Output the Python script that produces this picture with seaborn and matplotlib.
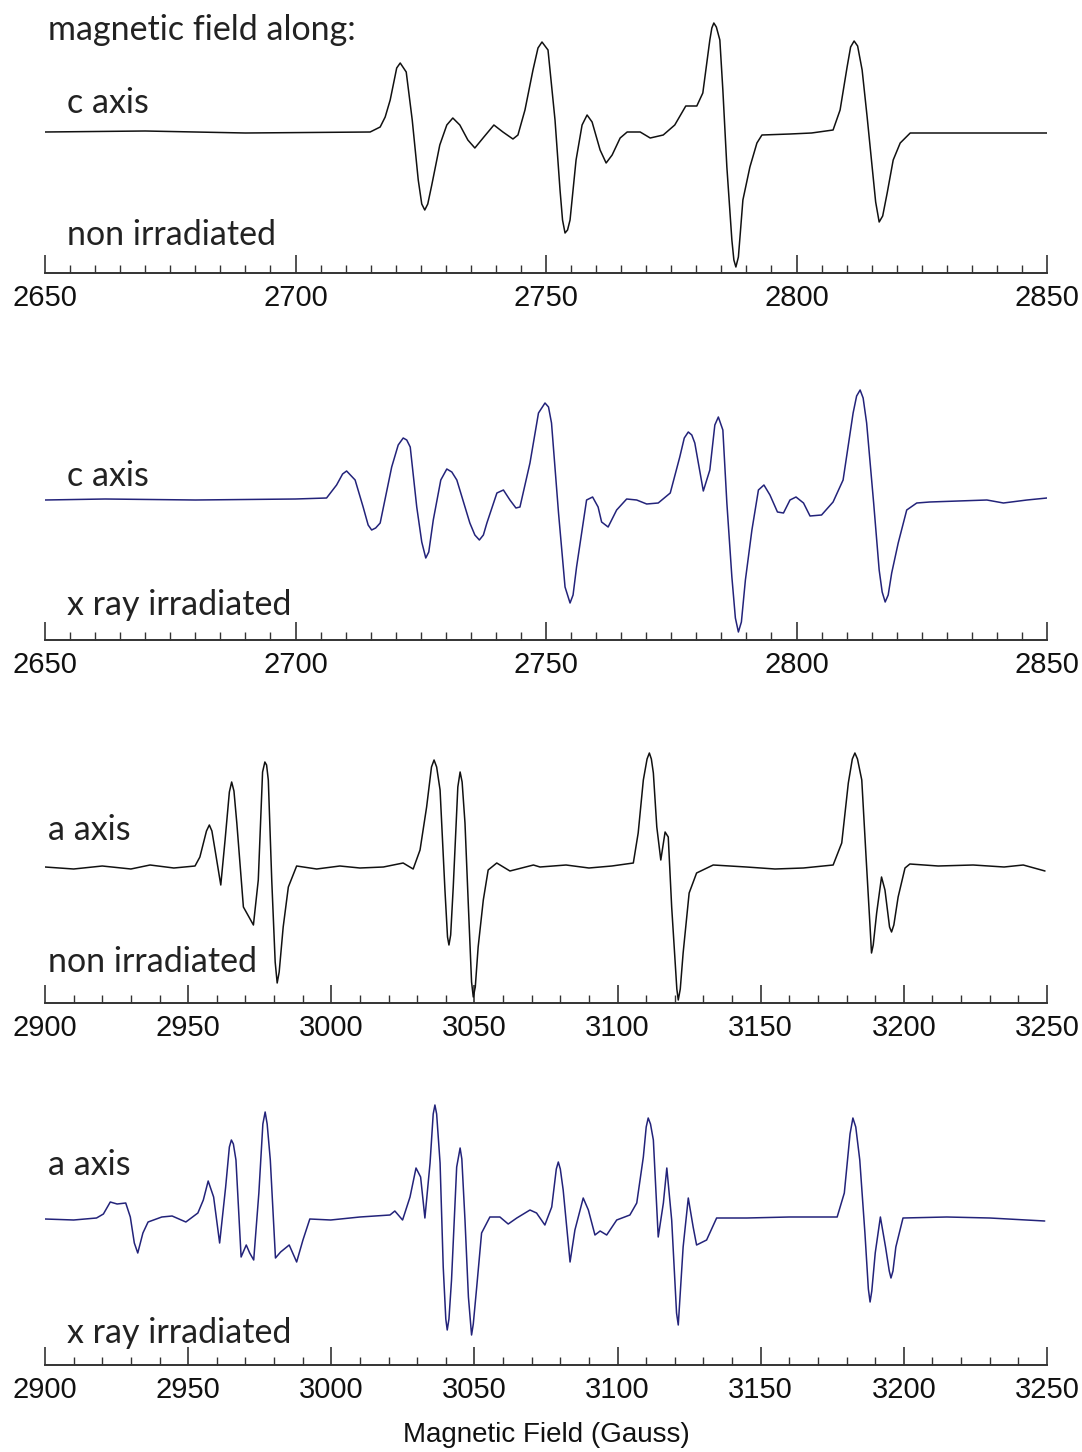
import matplotlib
matplotlib.use("Agg")
import matplotlib.pyplot as plt
from matplotlib.ticker import MultipleLocator
import seaborn as sns

sns.set_theme(style="white")
plt.rcParams['font.family'] = ['Liberation Sans', 'DejaVu Sans']

# ---------------- data (field in Gauss, signal in arbitrary units) ----------------
c_non_field = [2650.0, 2670.0, 2690.0, 2714.9, 2716.9, 2717.9, 2718.9, 2720.2, 2720.9, 2722.1,
               2723.3, 2724.5, 2725.2, 2725.8, 2726.4, 2727.2, 2728.8, 2730.2, 2731.4, 2732.8,
               2734.4, 2735.8, 2737.6, 2739.6, 2741.4, 2743.4, 2744.4, 2745.8, 2747.4, 2748.4,
               2749.2, 2750.4, 2751.8, 2752.8, 2753.3, 2753.8, 2754.3, 2754.8, 2756.0, 2757.2,
               2758.2, 2759.2, 2760.8, 2762.0, 2763.2, 2764.8, 2766.2, 2768.8, 2770.8, 2773.4,
               2775.7, 2777.9, 2780.1, 2781.3, 2782.7, 2783.1, 2783.5, 2784.0, 2784.7, 2785.3,
               2786.1, 2787.1, 2787.5, 2787.9, 2788.4, 2788.8, 2789.3, 2790.7, 2792.1, 2793.1,
               2798.7, 2803.0, 2807.3, 2808.7, 2810.1, 2810.8, 2811.5, 2812.2, 2813.1, 2814.1,
               2815.1, 2815.8, 2816.5, 2817.2, 2818.1, 2819.3, 2820.7, 2822.7, 2835.0, 2850.0]
c_non_signal = [0, 1, -1, 0, 5, 15, 32, 64, 69, 60,
                12, -48, -72, -78, -72, -53, -13, 7, 14, 7,
                -8, -16, -5, 7, 0, -7, -3, 22, 62, 84,
                90, 82, 12, -58, -88, -101, -98, -88, -28, 7,
                17, 10, -18, -31, -23, -6, 0, 0, -6, -3,
                7, 26, 26, 39, 92, 104, 109, 105, 92, 42,
                -35, -108, -128, -135, -125, -100, -68, -35, -11, -3,
                -2, -1, 2, 22, 65, 85, 91, 86, 62, 15,
                -35, -70, -90, -84, -61, -28, -11, -1, -1, -1]

c_xray_field = [2650.0, 2662.0, 2680.0, 2700.0, 2706.2, 2708.2, 2709.4, 2710.2, 2711.9, 2713.5,
                2714.5, 2715.2, 2716.0, 2716.9, 2719.2, 2720.5, 2721.5, 2722.2, 2722.9, 2724.2,
                2725.2, 2726.0, 2726.6, 2727.5, 2729.0, 2730.2, 2731.2, 2732.2, 2734.8, 2735.8,
                2736.7, 2737.5, 2738.2, 2740.2, 2741.5, 2742.8, 2744.0, 2744.8, 2746.8, 2748.5,
                2749.8, 2750.5, 2751.1, 2752.5, 2753.8, 2754.8, 2755.4, 2756.1, 2758.1, 2759.3,
                2760.4, 2761.1, 2762.4, 2764.1, 2766.1, 2768.1, 2770.1, 2772.4, 2774.8, 2776.7,
                2777.6, 2778.4, 2779.1, 2779.7, 2781.4, 2782.7, 2783.7, 2784.4, 2785.3, 2786.1,
                2787.1, 2787.8, 2788.4, 2789.0, 2789.8, 2791.1, 2792.4, 2793.5, 2794.7, 2796.2,
                2797.4, 2798.7, 2799.9, 2801.4, 2802.7, 2805.0, 2807.3, 2809.3, 2811.3, 2812.0,
                2812.7, 2813.3, 2814.0, 2815.4, 2816.5, 2817.1, 2817.7, 2818.3, 2819.0, 2820.3,
                2822.0, 2824.0, 2826.6, 2838.0, 2841.3, 2846.0, 2850.0]
c_xray_signal = [0, 1, 0, 1, 2, 15, 26, 29, 20, -7,
                 -25, -30, -28, -23, 33, 55, 62, 60, 53, -7,
                 -42, -58, -52, -20, 20, 31, 28, 20, -23, -35,
                 -40, -35, -23, 7, 10, 0, -8, -7, 37, 87,
                 97, 93, 77, -13, -87, -103, -95, -67, 0, 3,
                 -7, -22, -27, -10, 1, 0, -4, -3, 7, 43,
                 62, 68, 65, 57, 9, 30, 75, 83, 70, -3,
                 -77, -118, -132, -122, -80, -30, 10, 15, 5, -12,
                 -13, 0, 3, -3, -16, -15, -2, 20, 87, 104,
                 110, 102, 77, -3, -70, -92, -102, -95, -73, -43,
                 -10, -3, -2, 0, -3, 0, 2]

a_non_field = [2900.0, 2910.0, 2920.0, 2930.0, 2936.7, 2945.0, 2952.4, 2954.1, 2956.4, 2957.4,
               2958.3, 2959.4, 2961.4, 2962.9, 2964.4, 2965.2, 2966.0, 2967.0, 2969.3, 2972.8,
               2974.5, 2976.0, 2976.8, 2977.4, 2978.0, 2979.2, 2980.4, 2981.1, 2981.8, 2983.2,
               2985.0, 2987.9, 2994.9, 3003.0, 3010.0, 3018.2, 3025.1, 3028.6, 3031.0, 3033.3,
               3035.0, 3035.9, 3036.8, 3038.0, 3039.7, 3040.6, 3041.1, 3041.7, 3042.6, 3044.2,
               3045.0, 3045.7, 3046.7, 3047.9, 3049.0, 3049.6, 3050.3, 3051.3, 3053.1, 3054.8,
               3057.8, 3062.4, 3070.6, 3072.9, 3082.0, 3090.0, 3098.0, 3105.5, 3107.2, 3109.0,
               3110.3, 3111.1, 3111.8, 3112.5, 3113.7, 3115.1, 3116.6, 3117.7, 3118.9, 3120.0,
               3120.7, 3121.2, 3121.9, 3122.9, 3125.0, 3127.6, 3133.4, 3145.0, 3155.0, 3164.9,
               3175.3, 3178.3, 3180.6, 3182.0, 3182.9, 3183.8, 3185.3, 3186.8, 3188.2, 3188.7,
               3189.3, 3190.5, 3192.2, 3193.4, 3195.0, 3195.7, 3196.5, 3198.0, 3200.4, 3202.1,
               3212.0, 3224.2, 3235.0, 3241.7, 3249.3]
a_non_signal = [0, -2, 1, -2, 2, -1, 1, 10, 36, 42,
                36, 17, -18, 27, 75, 85, 76, 44, -40, -58,
                -13, 95, 105, 102, 87, -13, -95, -116, -105, -60,
                -20, 1, -2, 1, -1, 0, 4, -2, 17, 60,
                100, 107, 100, 77, -23, -70, -78, -68, -20, 80,
                95, 85, 44, -40, -115, -130, -120, -80, -33, -3,
                4, -4, 2, 0, 2, -1, 1, 4, 34, 87,
                108, 114, 108, 94, 40, 7, 35, 30, -40, -90,
                -122, -133, -122, -86, -26, -6, 2, 0, -2, -1,
                2, 24, 84, 108, 114, 108, 87, 10, -60, -86,
                -78, -46, -10, -23, -60, -65, -58, -30, -1, 3,
                1, 2, 0, 2, -4]

a_xray_field = [2900.0, 2910.0, 2918.0, 2920.4, 2922.8, 2925.2, 2928.2, 2929.8, 2931.2, 2932.4,
                2934.2, 2936.0, 2940.8, 2944.4, 2949.2, 2953.4, 2955.3, 2957.0, 2958.9, 2961.0,
                2963.1, 2964.4, 2965.1, 2965.8, 2966.7, 2968.5, 2970.3, 2971.5, 2972.9, 2974.7,
                2976.1, 2976.9, 2977.6, 2978.7, 2980.5, 2982.3, 2985.3, 2987.9, 2990.1, 2992.5,
                2999.8, 3010.0, 3020.5, 3022.2, 3024.9, 3027.5, 3029.6, 3031.2, 3032.7, 3034.5,
                3035.6, 3036.2, 3036.8, 3038.0, 3039.1, 3040.0, 3040.5, 3041.1, 3042.0, 3043.8,
                3045.0, 3045.6, 3046.7, 3047.9, 3049.0, 3049.6, 3050.8, 3052.5, 3055.4, 3058.9,
                3061.8, 3064.8, 3069.4, 3071.7, 3074.6, 3077.0, 3078.6, 3079.3, 3080.0, 3081.0,
                3083.4, 3085.1, 3088.0, 3089.8, 3092.1, 3093.9, 3096.2, 3099.7, 3104.3, 3106.7,
                3109.0, 3110.0, 3110.7, 3111.5, 3112.5, 3114.2, 3116.0, 3117.2, 3118.9, 3120.6,
                3121.2, 3122.9, 3124.7, 3126.4, 3127.6, 3131.1, 3134.6, 3145.1, 3160.0, 3176.7,
                3179.2, 3181.2, 3182.2, 3183.2, 3184.6, 3186.4, 3187.6, 3188.2, 3188.8, 3190.0,
                3191.8, 3193.6, 3194.9, 3195.5, 3196.2, 3197.2, 3199.7, 3215.0, 3230.0, 3249.2]
a_xray_signal = [0, -1, 1, 5, 17, 15, 16, 2, -24, -34,
                 -14, -3, 2, 3, -3, 6, 19, 38, 22, -24,
                 32, 72, 79, 75, 59, -38, -26, -34, -41, 26,
                 95, 107, 95, 59, -39, -33, -26, -43, -21, 0,
                 -1, 2, 4, 8, -1, 22, 51, 42, 1, 56,
                 105, 114, 105, 56, -48, -100, -111, -100, -61, 52,
                 71, 60, -1, -78, -116, -105, -68, -14, 2, 2,
                 -5, 1, 9, 6, -6, 12, 50, 57, 50, 29,
                 -43, -11, 21, 9, -16, -12, -16, -1, 4, 16,
                 62, 92, 101, 95, 79, -18, 16, 51, -1, -94,
                 -106, -28, 21, -8, -26, -21, 1, 1, 2, 2,
                 26, 85, 101, 92, 59, -14, -70, -83, -72, -34,
                 2, -28, -52, -59, -52, -28, 1, 2, 1, -2]

panel_titles_top = ["c axis", "c axis", "a axis", "a axis"]
panel_titles_bottom = ["non irradiated", "x ray irradiated", "non irradiated", "x ray irradiated"]
header_text = "magnetic field along:"
xlabel_text = "Magnetic Field (Gauss)"
xlims = [(2650, 2850), (2650, 2850), (2900, 3250), (2900, 3250)]
minor_steps = [5, 5, 10, 10]

# ---------------- layout ----------------
W, H = 1082, 1452
fig = plt.figure(figsize=(W / 100, H / 100), dpi=100)

def fx(px):
    return px / W

def fy(py):
    return 1 - py / H

BLACK = "#111111"
BLUE = "#23237a"

panels = [
    # spine_y, top_y, baseline_y, field, signal, color
    (273, 0, 132, c_non_field, c_non_signal, BLACK),
    (640, 370, 500, c_xray_field, c_xray_signal, BLUE),
    (1003, 730, 867, a_non_field, a_non_signal, BLACK),
    (1365, 1090, 1219, a_xray_field, a_xray_signal, BLUE),
]

label_pos = [
    ((67, 103), (67, 235)),
    ((67, 476), (67, 605)),
    ((48, 830), (48, 962)),
    ((48, 1165), (67, 1333)),
]

text_font = ['Lato', 'DejaVu Sans']
TXT = 24.5

for i, (spine_y, top_y, base_y, fld, sig, col) in enumerate(panels):
    ax = fig.add_axes([fx(45), fy(spine_y), fx(1047) - fx(45), (spine_y - top_y) / H])
    sns.lineplot(x=fld, y=sig, ax=ax, color=col, linewidth=1.1, sort=True,
                 estimator=None, legend=False)
    ax.set_xlim(*xlims[i])
    ax.set_ylim(-(spine_y - base_y), base_y - top_y)
    for s in ["top", "right", "left"]:
        ax.spines[s].set_visible(False)
    ax.spines["bottom"].set_color("#333333")
    ax.spines["bottom"].set_linewidth(1.4)
    ax.set_facecolor("none")
    ax.yaxis.set_visible(False)
    ax.set_xlabel("")
    ax.xaxis.set_major_locator(MultipleLocator(50))
    ax.xaxis.set_minor_locator(MultipleLocator(minor_steps[i]))
    ax.tick_params(axis="x", which="major", direction="in", length=13, width=1.2,
                   color="#333333", labelsize=21, pad=8, labelcolor="#111111", bottom=True)
    ax.tick_params(axis="x", which="minor", direction="in", length=6, width=1.0,
                   color="#333333", bottom=True)
    (tx, ty), (bx, by) = label_pos[i]
    fig.text(fx(tx), fy(ty), panel_titles_top[i], fontsize=TXT, family=text_font,
             color="#222222", ha="left", va="center")
    fig.text(fx(bx), fy(by), panel_titles_bottom[i], fontsize=TXT, family=text_font,
             color="#222222", ha="left", va="center")

fig.text(fx(48), fy(30), header_text, fontsize=TXT, family=text_font,
         color="#222222", ha="left", va="center")
fig.text(fx(546), fy(1435), xlabel_text, fontsize=20, color="#111111",
         ha="center", va="center")

fig.savefig("out.png", dpi=100, facecolor="white")
